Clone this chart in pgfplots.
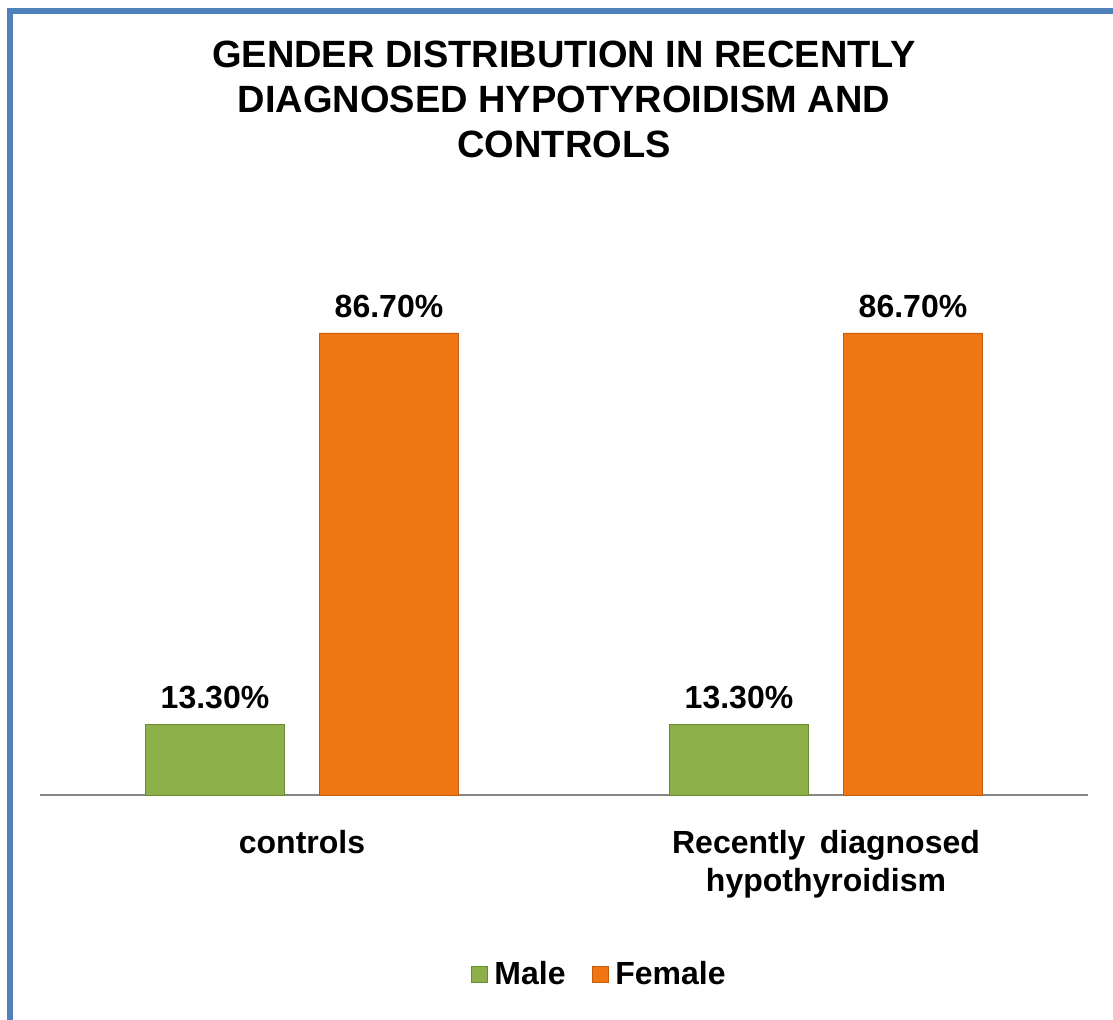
\documentclass[border=0pt]{standalone}
\usepackage{pgfplots}
\pgfplotsset{compat=1.18}
\usepackage{fontspec}
\setmainfont{Liberation Sans}
\definecolor{malegreen}{HTML}{8DB04A}
\definecolor{maleedge}{HTML}{6B8A34}
\definecolor{femorange}{HTML}{F07614}
\definecolor{femedge}{HTML}{C45C0C}
\definecolor{frameblue}{HTML}{4F81BD}
\definecolor{axisgray}{HTML}{868686}
\begin{document}
\begin{tikzpicture}
\begin{scope}[x=0.5pt,y=-0.5pt]
\path[use as bounding box] (0,0) rectangle (1113,1020);
\clip (0,0) rectangle (1113,1020);
\draw[frameblue, line width=3pt] (10,11) rectangle (1140,1050);
\end{scope}
\begin{axis}[
  at={(20pt,-397.5pt)}, anchor=south west,
  scale only axis, width=524pt, height=266.45pt,
  ybar=17.5pt, bar width=69.5pt,
  xmin=-0.5, xmax=1.5, ymin=0, ymax=100,
  enlarge x limits=false,
  axis x line*=bottom, axis y line=none,
  x axis line style={-, draw=axisgray, line width=1pt},
  ytick=\empty,
  xtick={0,1},
  xticklabels={controls, {Recently\hspace{0.45em}diagnosed\\hypothyroidism}},
  major tick length=0pt,
  xticklabel style={align=center, font=\bfseries\fontsize{16}{19}\selectfont, inner sep=0pt, yshift=-17.5pt, text=black},
  title={GENDER DISTRIBUTION IN RECENTLY\\DIAGNOSED HYPOTYROIDISM AND\\CONTROLS},
  title style={at={(axis description cs:0.5,1.394)}, anchor=north, font=\bfseries\fontsize{19}{22.5}\selectfont, align=center, inner sep=0pt},
  nodes near coords={\pgfmathprintnumber[fixed,fixed zerofill,precision=2,assume math mode=true]{\pgfplotspointmeta}\%},
  nodes near coords style={font=\bfseries\fontsize{16}{19}\selectfont, inner sep=0pt, yshift=7.5pt, text=black},
  legend style={draw=none, fill=none, legend columns=2, at={(axis description cs:0.5345,-0.336)}, anchor=center,
    font=\bfseries\fontsize{16}{19}\selectfont,
    /tikz/every odd column/.append style={column sep=1.5pt},
    /tikz/every even column/.append style={column sep=11pt}},
  clip=false,
]
\addplot[fill=malegreen, draw=maleedge, legend image code/.code={\draw[fill=malegreen, draw=maleedge] (0pt,-4pt) rectangle (8pt,4pt);}] coordinates {(0,13.3) (1,13.3)};
\addplot[fill=femorange, draw=femedge, legend image code/.code={\draw[fill=femorange, draw=femedge] (0pt,-4pt) rectangle (8pt,4pt);}] coordinates {(0,86.7) (1,86.7)};
\legend{Male,Female}
\end{axis}
\end{tikzpicture}
\end{document}
